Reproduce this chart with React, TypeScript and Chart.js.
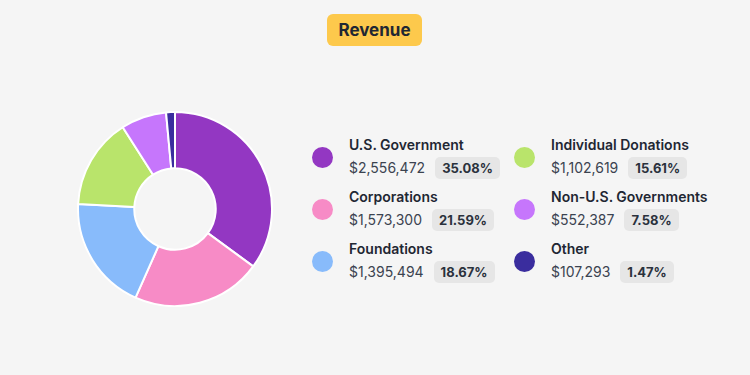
import React, { useEffect, useRef } from "react";
import { Chart, registerables } from "chart.js";

Chart.register(...registerables);

const categories = ["U.S. Government", "Corporations", "Foundations", "Individual Donations", "Non-U.S. Governments", "Other"];
const amounts = [2556472, 1573300, 1395494, 1102619, 552387, 107293];
const percentLabels = ["35.08%", "21.59%", "18.67%", "15.61%", "7.58%", "1.47%"];
const colors = ["#9337c2", "#f78bc6", "#88bbfb", "#b9e46b", "#c676fc", "#3a2d9e"];

const FONT = "Inter, 'Noto Sans', sans-serif";

function fmt(v: number) {
  return "$" + v.toLocaleString("en-US");
}

function LegendItem({ i }: { i: number }) {
  return (
    <div style={{ display: "flex", alignItems: "center", height: 52 }}>
      <div style={{ width: 21, height: 21, borderRadius: "50%", background: colors[i], marginRight: 16, flexShrink: 0 }} />
      <div>
        <div style={{ fontWeight: 600, fontSize: 14, color: "#1f2733", lineHeight: "18px" }}>{categories[i]}</div>
        <div style={{ display: "flex", alignItems: "center", marginTop: 3 }}>
          <span style={{ fontSize: 14, color: "#3b4350" }}>{fmt(amounts[i])}</span>
          <span style={{ marginLeft: 10, background: "#e6e6e6", borderRadius: 5, padding: "3px 7px", fontSize: 13, fontWeight: 700, color: "#2a313c" }}>{percentLabels[i]}</span>
        </div>
      </div>
    </div>
  );
}

export default function App() {
  const ref = useRef<HTMLCanvasElement>(null);
  useEffect(() => {
    document.body.style.margin = "0";
    const chart = new Chart(ref.current!, {
      type: "doughnut",
      data: {
        labels: categories,
        datasets: [{ data: amounts, backgroundColor: colors, borderColor: "#ffffff", borderWidth: 2 }],
      },
      options: {
        animation: false,
        responsive: false,
        cutout: "42%",
        plugins: { legend: { display: false }, tooltip: { enabled: false } },
        layout: { padding: 0 },
      },
    });
    return () => chart.destroy();
  }, []);
  return (
    <div style={{ position: "relative", width: 750, height: 375, background: "#f5f5f5", fontFamily: FONT, overflow: "hidden" }}>
      <div style={{ position: "absolute", left: 327, top: 14, width: 95, height: 32, background: "#fdc94c", borderRadius: 6, display: "flex", alignItems: "center", justifyContent: "center", fontWeight: 700, fontSize: 17, color: "#1f2733" }}>Revenue</div>
      <canvas ref={ref} width={196} height={196} style={{ position: "absolute", left: 77, top: 111, width: 196, height: 196 }} />
      <div style={{ position: "absolute", left: 312, top: 131 }}>
        <LegendItem i={0} />
        <LegendItem i={1} />
        <LegendItem i={2} />
      </div>
      <div style={{ position: "absolute", left: 514, top: 131 }}>
        <LegendItem i={3} />
        <LegendItem i={4} />
        <LegendItem i={5} />
      </div>
    </div>
  );
}
